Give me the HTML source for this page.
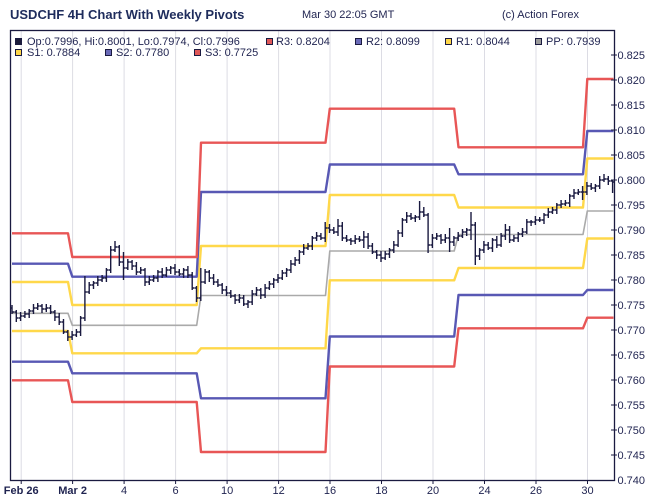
<!DOCTYPE html>
<html><head><meta charset="utf-8"><style>
html,body{margin:0;padding:0;background:#fff;}
svg{display:block;}
text{font-family:"Liberation Sans",Arial,sans-serif;}
</style></head><body>
<svg width="650" height="501" viewBox="0 0 650 501" xmlns="http://www.w3.org/2000/svg">
<rect x="0" y="0" width="650" height="501" fill="#fff"/>
<!-- grid -->
<g stroke="#dcdce4" stroke-width="1">
<path d="M21.2 30V480M72.6 30V480M124.1 30V480M175.6 30V480M227.1 30V480M278.6 30V480M330 30V480M381.5 30V480M433 30V480M484.5 30V480M536 30V480M587.5 30V480"/>
</g>
<!-- pivots -->
<g fill="none" stroke-linejoin="round">
<path stroke="#aaaaaa" stroke-width="1.6" d="M12 313.3H68L72.3 325.3H196.7L201 295.5H325.5L329.8 251H454.2L458.5 234.5H583L587.3 211H613.5"/>
<path stroke="#ffd84a" stroke-width="2.4" d="M12 282H68L72.3 305H196.7L201 246H325.5L329.8 195H454.2L458.5 207.5H583L587.3 158.5H613.5"/>
<path stroke="#ffd84a" stroke-width="2.4" d="M12 331H68L72.3 353.3H196.7L201 348.3H325.5L329.8 280.3H454.2L458.5 268H583L587.3 238.5H613.5"/>
<path stroke="#5858b4" stroke-width="2.4" d="M12 263.7H68L72.3 276.7H196.7L201 192H325.5L329.8 164.5H454.2L458.5 174.3H583L587.3 131H613.5"/>
<path stroke="#5858b4" stroke-width="2.4" d="M12 361.7H68L72.3 373.3H196.7L201 398.3H325.5L329.8 336.5H454.2L458.5 295H583L587.3 290H613.5"/>
<path stroke="#e85656" stroke-width="2.4" d="M12 233.3H68L72.3 257H196.7L201 142.7H325.5L329.8 108.7H454.2L458.5 147.3H583L587.3 79H613.5"/>
<path stroke="#e85656" stroke-width="2.4" d="M12 380.3H68L72.3 402H196.7L201 452H325.5L329.8 366.5H454.2L458.5 328.3H583L587.3 317.7H613.5"/>
</g>
<!-- bars -->
<path fill="none" stroke="#1a1a40" stroke-width="1.4" d="M12 305V314M10 308h2M12 312h2M16.3 310V322M14.3 312h2M16.3 318h2M20.6 312V321M18.6 318h2M20.6 316h2M24.9 311V318M22.9 316h2M24.9 314h2M29.2 309V318M27.2 314h2M29.2 311h2M33.5 304V314M31.5 311h2M33.5 308h2M37.7 303V310M35.7 308h2M37.7 306h2M42 304V313M40 306h2M42 309h2M46.3 304V312M44.3 309h2M46.3 308h2M50.6 305V314M48.6 308h2M50.6 312h2M54.9 310V321M52.9 312h2M54.9 317h2M59.2 313V325M57.2 317h2M59.2 322h2M63.5 319V334M61.5 322h2M63.5 332h2M67.8 330V341M65.8 332h2M67.8 337h2M72.1 331V340M70.1 337h2M72.1 335h2M76.4 329V337M74.4 335h2M76.4 332h2M80.6 316V336M78.6 332h2M80.6 318h2M84.9 276V321M82.9 318h2M84.9 292h2M89.2 282V294M87.2 292h2M89.2 285h2M93.5 281V289M91.5 285h2M93.5 283h2M97.8 276V286M95.8 283h2M97.8 280h2M102.1 275V282M100.1 280h2M102.1 278h2M106.4 268V282M104.4 278h2M106.4 270h2M110.7 246V273M108.7 270h2M110.7 250h2M115 241V252M113 250h2M115 247h2M119.3 245V266M117.3 247h2M119.3 262h2M123.5 252V280M121.5 262h2M123.5 268h2M127.8 259V270M125.8 268h2M127.8 262h2M132.1 260V270M130.1 262h2M132.1 266h2M136.4 262V275M134.4 266h2M136.4 272h2M140.7 267V274M138.7 272h2M140.7 270h2M145 268V286M143 270h2M145 282h2M149.3 276V285M147.3 282h2M149.3 280h2M153.6 275V282M151.6 280h2M153.6 278h2M157.9 270V282M155.9 278h2M157.9 272h2M162.2 268V278M160.2 272h2M162.2 275h2M166.4 267V277M164.4 275h2M166.4 270h2M170.7 266V274M168.7 270h2M170.7 268h2M175 264V275M173 268h2M175 272h2M179.3 269V276M177.3 272h2M179.3 274h2M183.6 268V278M181.6 274h2M183.6 270h2M187.9 266V278M185.9 270h2M187.9 275h2M192.2 272V290M190.2 275h2M192.2 288h2M196.5 286V302M194.5 288h2M196.5 298h2M200.8 268V301M198.8 298h2M200.8 282h2M205.1 269V284M203.1 282h2M205.1 272h2M209.3 270V282M207.3 272h2M209.3 278h2M213.6 274V285M211.6 278h2M213.6 282h2M217.9 279V287M215.9 282h2M217.9 285h2M222.2 283V294M220.2 285h2M222.2 290h2M226.5 286V296M224.5 290h2M226.5 293h2M230.8 290V298M228.8 293h2M230.8 296h2M235.1 294V304M233.1 296h2M235.1 300h2M239.4 294V303M237.4 300h2M239.4 298h2M243.7 295V306M241.7 298h2M243.7 304h2M248 300V308M246 304h2M248 302h2M252.2 290V305M250.2 302h2M252.2 294h2M256.5 287V296M254.5 294h2M256.5 290h2M260.8 288V299M258.8 290h2M260.8 295h2M265.1 284V298M263.1 295h2M265.1 288h2M269.4 281V290M267.4 288h2M269.4 284h2M273.7 278V288M271.7 284h2M273.7 280h2M278 274V283M276 280h2M278 278h2M282.3 270V280M280.3 278h2M282.3 273h2M286.6 268V277M284.6 273h2M286.6 270h2M290.9 260V273M288.9 270h2M290.9 264h2M295.1 257V266M293.1 264h2M295.1 260h2M299.4 250V264M297.4 260h2M299.4 252h2M303.7 244V255M301.7 252h2M303.7 248h2M308 243V250M306 248h2M308 246h2M312.3 236V250M310.3 246h2M312.3 238h2M316.6 232V241M314.6 238h2M316.6 236h2M320.9 233V240M318.9 236h2M320.9 238h2M325.2 222V242M323.2 238h2M325.2 228h2M329.5 224V233M327.5 228h2M329.5 230h2M333.8 227V234M331.8 230h2M333.8 232h2M338 219V236M336 232h2M338 226h2M342.3 222V241M340.3 226h2M342.3 238h2M346.6 235V242M344.6 238h2M346.6 240h2M350.9 238V245M348.9 240h2M350.9 241h2M355.2 235V244M353.2 241h2M355.2 239h2M359.5 236V242M357.5 239h2M359.5 240h2M363.8 231V248M361.8 240h2M363.8 237h2M368.1 233V249M366.1 237h2M368.1 246h2M372.4 243V254M370.4 246h2M372.4 252h2M376.7 250V259M374.7 252h2M376.7 255h2M381 251V262M379 255h2M381 258h2M385.2 251V260M383.2 258h2M385.2 254h2M389.5 248V258M387.5 254h2M389.5 250h2M393.8 241V253M391.8 250h2M393.8 245h2M398.1 230V247M396.1 245h2M398.1 233h2M402.4 218V237M400.4 233h2M402.4 220h2M406.7 212V223M404.7 220h2M406.7 216h2M411 213V220M409 216h2M411 218h2M415.3 215V222M413.3 218h2M415.3 217h2M419.6 201V220M417.6 217h2M419.6 212h2M423.8 207V217M421.8 212h2M423.8 215h2M428.1 213V253M426.1 215h2M428.1 245h2M432.4 234V248M430.4 245h2M432.4 238h2M436.7 233V240M434.7 238h2M436.7 236h2M441 234V244M439 236h2M441 240h2M445.3 234V243M443.3 240h2M445.3 238h2M449.6 228V252M447.6 238h2M449.6 242h2M453.9 236V246M451.9 242h2M453.9 238h2M458.2 232V241M456.2 238h2M458.2 236h2M462.5 229V238M460.5 236h2M462.5 232h2M466.7 228V236M464.7 232h2M466.7 230h2M471 212V240M469 230h2M471 225h2M475.3 222V265M473.3 225h2M475.3 256h2M479.6 248V260M477.6 256h2M479.6 250h2M483.9 241V253M481.9 250h2M483.9 245h2M488.2 242V250M486.2 245h2M488.2 248h2M492.5 238V252M490.5 248h2M492.5 240h2M496.8 236V248M494.8 240h2M496.8 245h2M501.1 233V247M499.1 245h2M501.1 236h2M505.4 224V240M503.4 236h2M505.4 230h2M509.6 226V243M507.6 230h2M509.6 240h2M513.9 235V242M511.9 240h2M513.9 238h2M518.2 232V242M516.2 238h2M518.2 234h2M522.5 228V237M520.5 234h2M522.5 232h2M526.8 219V234M524.8 232h2M526.8 222h2M531.1 220V226M529.1 222h2M531.1 222h2M535.4 216V225M533.4 222h2M535.4 220h2M539.7 217V222M537.7 220h2M539.7 220h2M544 213V224M542 220h2M544 215h2M548.3 208V218M546.3 215h2M548.3 212h2M552.5 207V214M550.5 212h2M552.5 210h2M556.8 203V214M554.8 210h2M556.8 205h2M561.1 200V208M559.1 205h2M561.1 204h2M565.4 200V206M563.4 204h2M565.4 203h2M569.7 194V207M567.7 203h2M569.7 196h2M574 189V199M572 196h2M574 193h2M578.3 189V195M576.3 193h2M578.3 192h2M582.6 186V200M580.6 192h2M582.6 192h2M586.9 182V195M584.9 192h2M586.9 186h2M591.2 183V190M589.2 186h2M591.2 188h2M595.4 184V192M593.4 188h2M595.4 186h2M599.7 176V189M597.7 186h2M599.7 180h2M604 174V182M602 180h2M604 179h2M608.3 176V185M606.3 179h2M608.3 181h2M612.6 179.5V193M610.6 181h2M612.6 182h2"/>
<!-- frame -->
<rect x="10.5" y="30.5" width="604" height="450" fill="none" stroke="#1a1a40" stroke-width="1.3"/>
<!-- ticks -->
<g stroke="#1a1a40" stroke-width="1">
<path d="M611 55H617M611 80H617M611 105H617M611 130H617M611 155H617M611 180H617M611 205H617M611 230H617M611 255H617M611 280H617M611 305H617M611 330H617M611 355H617M611 380H617M611 405H617M611 430H617M611 455H617"/>
<path d="M21.2 480V484M72.6 480V484M124.1 480V484M175.6 480V484M227.1 480V484M278.6 480V484M330 480V484M381.5 480V484M433 480V484M484.5 480V484M536 480V484M587.5 480V484"/>
</g>
<g font-size="11" fill="#1f2350">
<text x="617.5" y="59">0.825</text>
<text x="617.5" y="84">0.820</text>
<text x="617.5" y="109">0.815</text>
<text x="617.5" y="134">0.810</text>
<text x="617.5" y="159">0.805</text>
<text x="617.5" y="184">0.800</text>
<text x="617.5" y="209">0.795</text>
<text x="617.5" y="234">0.790</text>
<text x="617.5" y="259">0.785</text>
<text x="617.5" y="284">0.780</text>
<text x="617.5" y="309">0.775</text>
<text x="617.5" y="334">0.770</text>
<text x="617.5" y="359">0.765</text>
<text x="617.5" y="384">0.760</text>
<text x="617.5" y="409">0.755</text>
<text x="617.5" y="434">0.750</text>
<text x="617.5" y="459">0.745</text>
<text x="617.5" y="484">0.740</text>
</g>
<g font-size="11" fill="#1f2350" text-anchor="middle">
<text x="21.2" y="494" font-weight="bold">Feb 26</text>
<text x="72.6" y="494" font-weight="bold">Mar 2</text>
<text x="124.1" y="494">4</text>
<text x="175.6" y="494">6</text>
<text x="227.1" y="494">10</text>
<text x="278.6" y="494">12</text>
<text x="330" y="494">16</text>
<text x="381.5" y="494">18</text>
<text x="433" y="494">20</text>
<text x="484.5" y="494">24</text>
<text x="536" y="494">26</text>
<text x="587.5" y="494">30</text>
</g>
<!-- title -->
<text x="10" y="19" font-size="13" font-weight="bold" fill="#1e2c5c">USDCHF 4H Chart With Weekly Pivots</text>
<text x="302" y="18" font-size="11" fill="#1f2350">Mar 30 22:05 GMT</text>
<text x="502" y="18" font-size="11" fill="#1f2350">(c) Action Forex</text>
<!-- legend -->
<g stroke="#1a1a40" stroke-width="1">
<rect x="15.5" y="38.5" width="6" height="6" fill="#1a1a3a"/>
<rect x="266.5" y="38.5" width="6" height="6" fill="#e05858"/>
<rect x="355.5" y="38.5" width="6" height="6" fill="#6a6ab8"/>
<rect x="445.5" y="38.5" width="6" height="6" fill="#ffd84a"/>
<rect x="535.5" y="38.5" width="6" height="6" fill="#9a9a9a"/>
<rect x="15.5" y="49.5" width="6" height="6" fill="#ffd84a"/>
<rect x="105.5" y="49.5" width="6" height="6" fill="#6a6ab8"/>
<rect x="194.5" y="49.5" width="6" height="6" fill="#e05858"/>
</g>
<g font-size="11" fill="#1f2350">
<text x="27" y="45">Op:0.7996, Hi:0.8001, Lo:0.7974, Cl:0.7996</text>
<text x="276" y="45">R3: 0.8204</text>
<text x="366" y="45">R2: 0.8099</text>
<text x="456" y="45">R1: 0.8044</text>
<text x="546" y="45">PP: 0.7939</text>
<text x="27" y="56">S1: 0.7884</text>
<text x="116" y="56">S2: 0.7780</text>
<text x="205" y="56">S3: 0.7725</text>
</g>
</svg>
</body></html>
